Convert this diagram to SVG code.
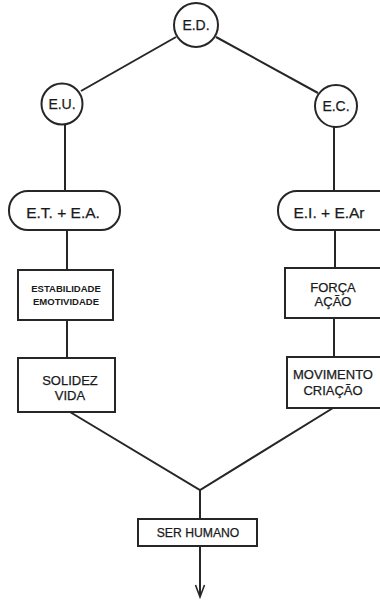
<svg xmlns="http://www.w3.org/2000/svg" width="380" height="600" viewBox="0 0 380 600">
<style>
.n{fill:#fff;stroke:#262626;stroke-width:2}
.c{fill:none;stroke:#262626;stroke-width:2}
text{font-family:"Liberation Sans",Arial,sans-serif;fill:#1a1a1a;stroke:#1a1a1a;stroke-width:0.25;text-anchor:middle}
.t14{font-size:14px}
.t16{font-size:15.5px}
.t13{font-size:13px}
.t9{font-size:9.5px;font-weight:bold;stroke-width:0}
.t12{font-size:12.2px}
</style>
<rect width="380" height="600" fill="#fff"/>
<g id="connectors">
<line class="c" x1="176" y1="37" x2="81" y2="91"/>
<line class="c" x1="216" y1="37" x2="318" y2="93"/>
<line class="c" x1="65" y1="125" x2="65" y2="190"/>
<line class="c" x1="334" y1="127" x2="334" y2="190"/>
<line class="c" x1="67" y1="230" x2="67" y2="270"/>
<line class="c" x1="335" y1="230" x2="335" y2="268"/>
<line class="c" x1="67" y1="320" x2="67" y2="358"/>
<line class="c" x1="334" y1="318" x2="334" y2="357"/>
<polyline class="c" points="70,412 200,490 333,408"/>
<line class="c" x1="200" y1="490" x2="200" y2="519"/>
<line class="c" x1="200" y1="546" x2="200" y2="597"/>
<path d="M195.5,585 L200,597 L204.5,585" fill="none" stroke="#262626" stroke-width="1.6"/>
</g>
<g id="ED">
<circle class="n" cx="196" cy="25" r="22"/>
<text class="t14" x="196" y="30">E.D.</text>
</g>
<g id="EU">
<circle class="n" cx="62" cy="104" r="20.5"/>
<text class="t14" x="62" y="109">E.U.</text>
</g>
<g id="EC">
<circle class="n" cx="336" cy="106" r="21"/>
<text class="t14" x="336" y="111">E.C.</text>
</g>
<g id="ETEA">
<rect class="n" x="9" y="191" width="111" height="39" rx="19"/>
<text class="t16" x="63" y="218">E.T. + E.A.</text>
</g>
<g id="EIEAr">
<rect class="n" x="278" y="191" width="120" height="39" rx="19"/>
<text class="t16" x="329" y="218">E.I. + E.Ar</text>
</g>
<g id="estabilidade">
<rect class="n" x="18" y="270" width="95" height="50"/>
<text class="t9" x="66" y="292">ESTABILIDADE</text>
<text class="t9" x="66" y="305">EMOTIVIDADE</text>
</g>
<g id="solidez">
<rect class="n" x="18" y="358" width="97" height="54"/>
<text class="t13" x="70" y="385">SOLIDEZ</text>
<text class="t13" x="70" y="400">VIDA</text>
</g>
<g id="forca">
<rect class="n" x="285" y="268" width="100" height="50"/>
<text class="t13" x="333" y="292">FORÇA</text>
<text class="t13" x="333" y="306">AÇÃO</text>
</g>
<g id="movimento">
<rect class="n" x="287" y="357" width="100" height="51"/>
<text class="t13" x="333" y="379">MOVIMENTO</text>
<text class="t13" x="333" y="395">CRIAÇÃO</text>
</g>
<g id="serhumano">
<rect class="n" x="138" y="519" width="119" height="27"/>
<text class="t12" x="198" y="537">SER HUMANO</text>
</g>
</svg>
